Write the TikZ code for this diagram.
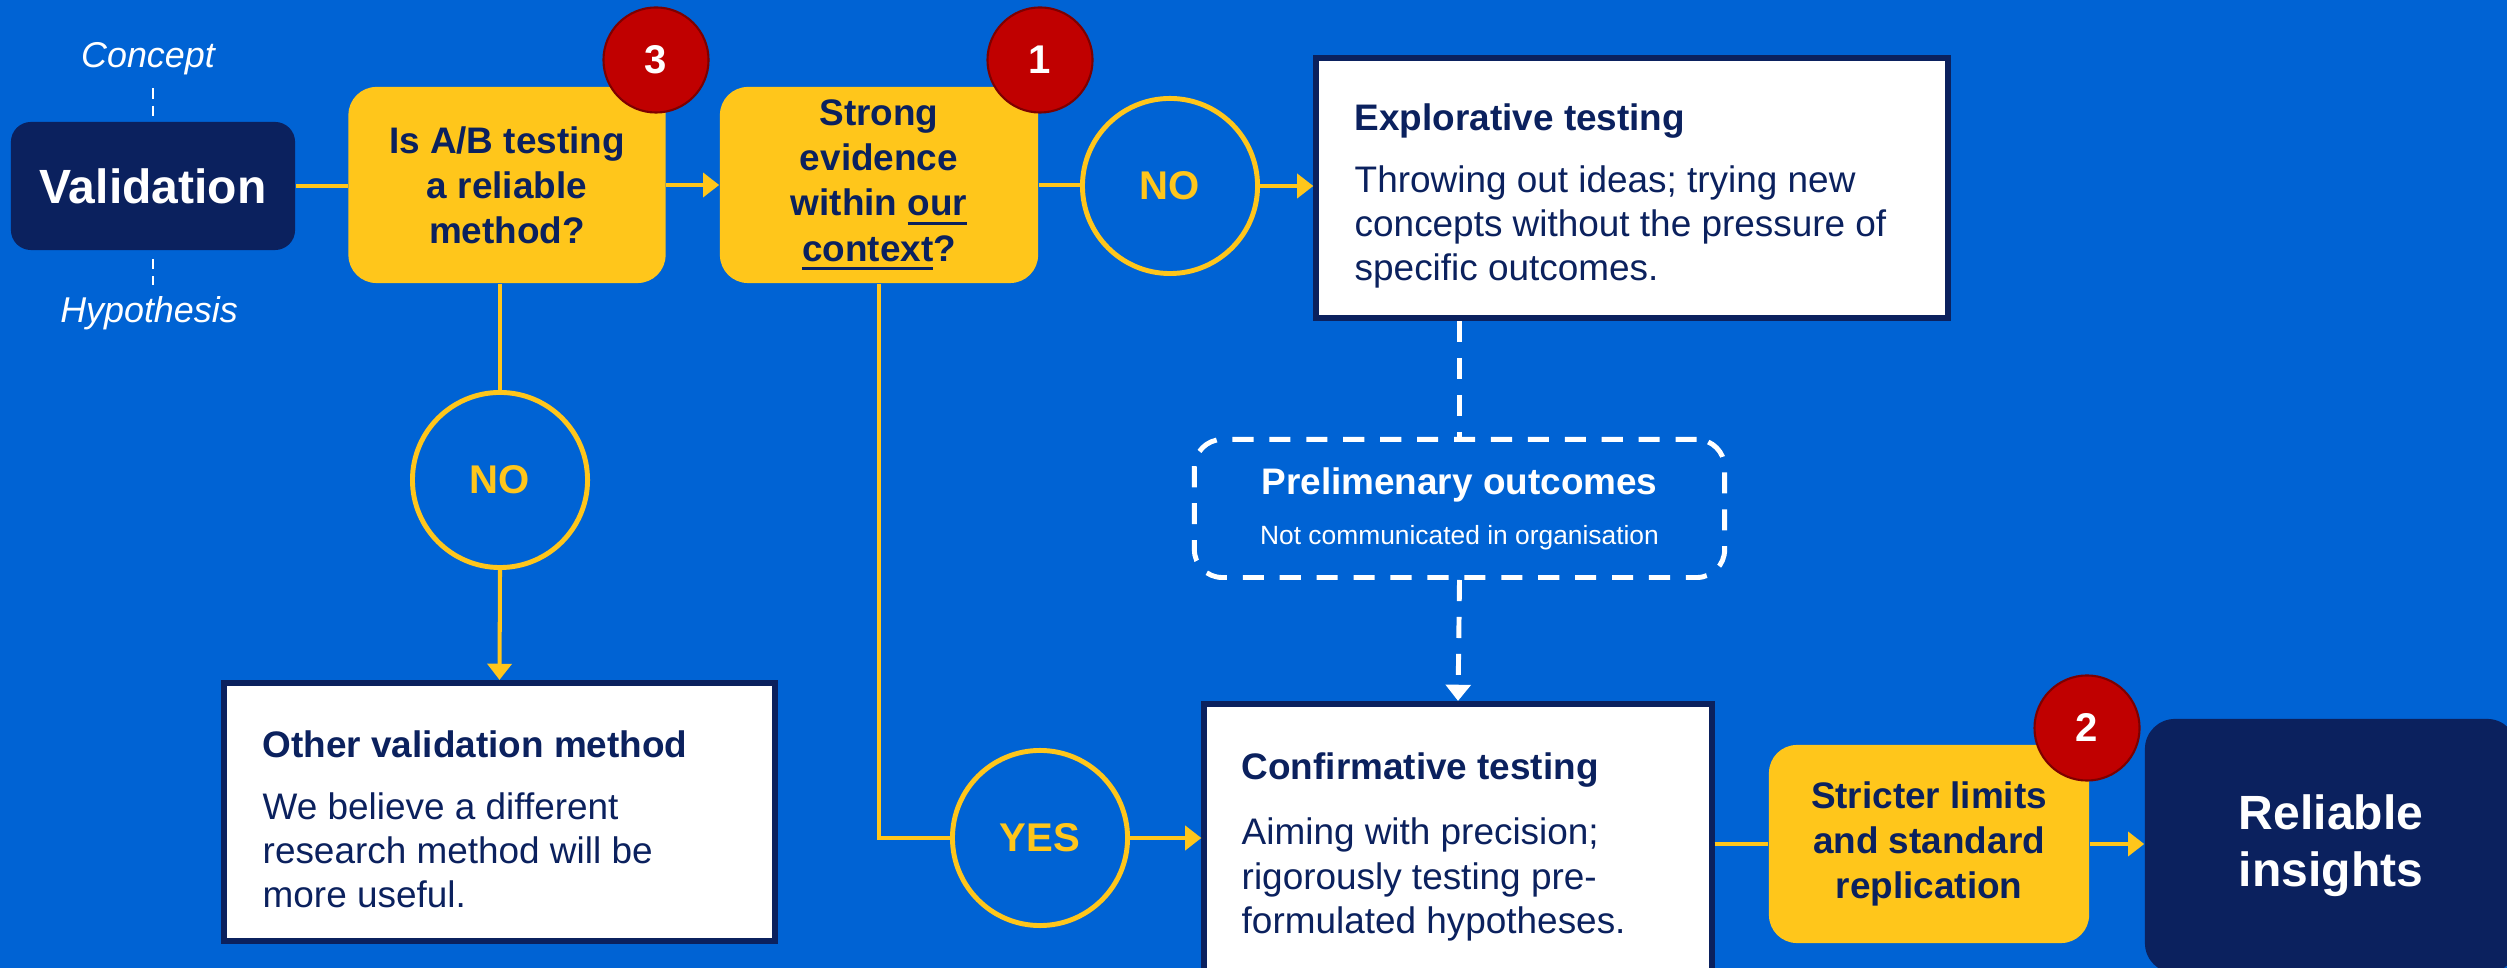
\documentclass[tikz,border=0pt]{standalone}
\usepackage{fontspec}
\setmainfont{Liberation Sans}
\usetikzlibrary{arrows.meta,calc}
\definecolor{bgblue}{RGB}{0,99,212}
\definecolor{navy}{RGB}{11,33,94}
\definecolor{ylw}{RGB}{255,198,27}
\definecolor{bred}{RGB}{192,0,0}
\newcommand\fBody{\fontsize{10.5pt}{12.6pt}\selectfont}
\newcommand\fYel{\fontsize{10.5pt}{12.8pt}\selectfont}
\newcommand\fBig{\fontsize{13.66pt}{16.2pt}\selectfont}
\newcommand\fIt{\fontsize{10.2pt}{12pt}\selectfont}
\newcommand\fRing{\fontsize{11.4pt}{13pt}\selectfont}
\newcommand\fSmall{\fontsize{7.5pt}{14.2pt}\selectfont}
\newcommand\fTitle{\fontsize{10.5pt}{14.2pt}\selectfont}
\newcommand\myul[1]{\setbox0\hbox{#1}\rlap{\rule[-2.5pt]{\wd0}{0.9pt}}\box0}
\begin{document}
\begin{tikzpicture}[x=0.01cm,y=-0.01cm,
  ybox/.style={fill=ylw, rounded corners=0.28cm, minimum width=3.17cm, minimum height=1.96cm, align=center, text=navy, font=\fYel\bfseries, inner sep=0},
  nbox/.style={fill=navy, rounded corners=0.2cm, text=white, font=\fBig\bfseries, align=center, inner sep=0},
  wbox/.style={fill=white, draw=navy, line width=1.7pt, inner sep=0},
  ring/.style={circle, draw=ylw, line width=1.4pt, minimum size=1.75cm, inner sep=0, text=ylw, font=\fRing\bfseries},
  badge/.style={circle, fill=bred, draw=bred!65!black, line width=0.6pt, minimum size=1.05cm, inner sep=0, text=white, font=\fRing\bfseries},
  conn/.style={draw=ylw, line width=1.15pt},
  arr/.style={conn, -{Triangle[length=4.6pt,width=6.8pt]}},
  wdash/.style={draw=white, line width=1.4pt, dash pattern=on 6pt off 4.5pt},
  btext/.style={anchor=north west, align=left, text=navy, font=\fBody, inner sep=0},
  lbl/.style={text=white, font=\fIt\itshape, anchor=base, inner sep=0},
]
\useasboundingbox (0,0) rectangle (2507,968);
\clip (0,0) rectangle (2507,968);
\fill[bgblue] (0,0) rectangle (2507,968);

% left column
\node[nbox, minimum width=2.84cm, minimum height=1.28cm] (val) at (153,186) {Validation};
\node[lbl] (concept) at (148,68) {Concept};
\node[lbl] (hyp) at (149,323) {Hypothesis};
\draw[white, line width=0.8pt, dash pattern=on 3pt off 2pt, shorten <=3.4pt, shorten >=1.4pt] (concept.south -| val.north) -- (val.north);
\draw[white, line width=0.8pt, dash pattern=on 3pt off 2pt, shorten <=2.3pt, shorten >=3.1pt] (val.south) -- (val.south |- hyp.north);

% questions
\node[ybox] (q3) at (507,185) {Is A/B testing\\a reliable\\method?};
\node[ybox, minimum width=3.18cm] (q1) at (879,185) {Strong\\evidence\\within \myul{our}\\\myul{context}?};

% rings
\node[ring] (no1) at (1170,186) {NO};
\node[ring] (no2) at (500,480) {NO};
\node[ring] (yes) at (1040,838) {YES};

% white boxes
\node[wbox, minimum width=6.31cm, minimum height=2.6cm] (expl) at (1632,188) {};
\node[btext] (explt) at (1354,103) {\textbf{Explorative testing}\\[5pt]Throwing out ideas; trying new\\concepts without the pressure of\\specific outcomes.};

\node[wbox, minimum width=5.51cm, minimum height=2.58cm] (other) at (499.5,812) {};
\node[btext] (othert) at (262,730) {\textbf{Other validation method}\\[5pt]We believe a different\\research method will be\\more useful.};

\node[wbox, minimum width=5.07cm, minimum height=2.96cm] (conf) at (1458,852) {};
\node[btext] (conft) at (1241,752) {\textbf{Confirmative testing}\\[6pt]Aiming with precision;\\rigorously testing pre-\\formulated hypotheses.};

% preliminary
\node[wdash, draw=white, rounded corners=0.28cm, minimum width=5.3cm, minimum height=1.38cm, align=center, text=white, font=\fTitle, inner sep=0] (prelim) at (1459.5,508.5) {\textbf{Prelimenary outcomes}\\{\fSmall Not communicated in organisation}};

% right side
\node[ybox, minimum width=3.2cm, minimum height=1.98cm] (strict) at (1929,844) {Stricter limits\\and standard\\replication};
\node[nbox, rounded corners=0.3cm, minimum width=3.72cm, minimum height=2.54cm] (rel) at (2331,846) {Reliable\\insights};

% connectors
\draw[conn] (val.east) -- (val.east -| q3.west);
\draw[arr] (q3.east) -- (q1.west);
\draw[conn] (q1.east) -- (q1.east -| no1.west);
\draw[arr] (no1.east) -- (no1.east -| expl.west);
\draw[conn] (q3.south -| no2.north) -- (no2.north);
\draw[arr] (no2.south) -- (other.north);
\draw[conn] (q1.south) |- (yes.west);
\draw[arr] (yes.east) -- (yes.east -| conf.west);
\draw[conn] (strict.west -| conf.east) -- (strict.west);
\draw[arr] (strict.east) -- (strict.east -| rel.west);
\draw[wdash] (prelim.north |- expl.south) -- (prelim.north);
\draw[wdash, -{Triangle[length=4.6pt,width=7pt,fill=white]}] (prelim.south) -- (conf.north);

% badges
\node[badge] (b3) at (656,60) {3};
\node[badge] (b1) at (1040,60) {1};
\node[badge] (b2) at (2087,728) {2};
\end{tikzpicture}
\end{document}
